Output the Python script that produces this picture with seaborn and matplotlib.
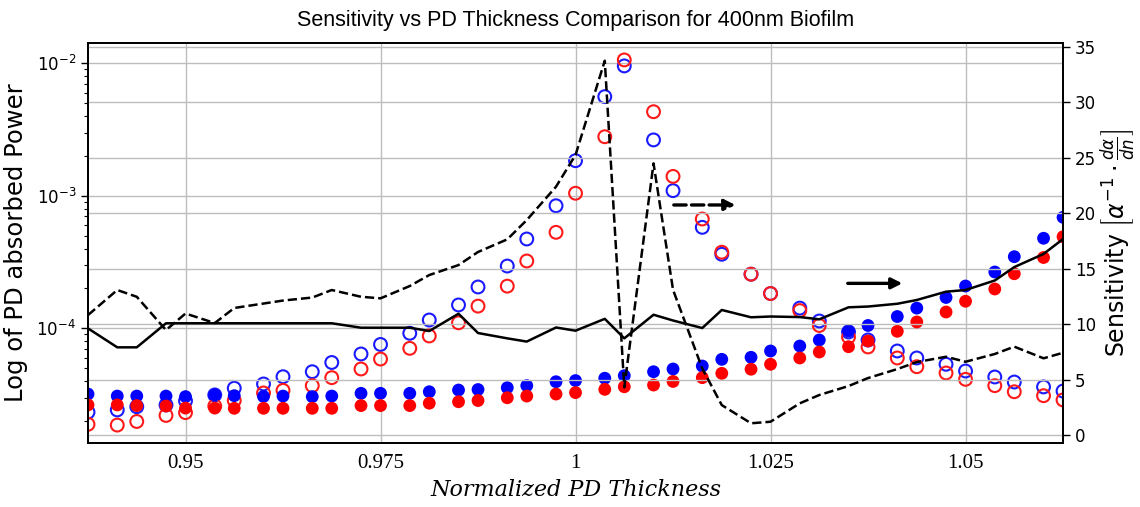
import numpy as np
import pandas as pd
import matplotlib
matplotlib.use("Agg")
import matplotlib.pyplot as plt
import seaborn as sns
from matplotlib.ticker import FixedLocator, FixedFormatter, LogLocator, NullFormatter

# ---------------- data ----------------
thickness = [0.9375, 0.94125, 0.94375, 0.9475, 0.95, 0.95375, 0.95625, 0.96, 0.9625,
             0.96625, 0.96875, 0.9725, 0.975, 0.97875, 0.98125, 0.985, 0.9875, 0.99125,
             0.99375, 0.9975, 1.0, 1.00375, 1.00625, 1.01, 1.0125, 1.01625, 1.01875,
             1.0225, 1.025, 1.02875, 1.03125, 1.035, 1.0375, 1.04125, 1.04375, 1.0475,
             1.05, 1.05375, 1.05625, 1.06, 1.0625]

power_filled_blue = [3.19e-5, 3.08e-5, 3.08e-5, 3.08e-5, 3.05e-5, 3.14e-5, 3.10e-5, 3.06e-5, 3.08e-5,
                     3.05e-5, 3.08e-5, 3.23e-5, 3.23e-5, 3.23e-5, 3.32e-5, 3.42e-5, 3.45e-5, 3.56e-5,
                     3.69e-5, 3.95e-5, 4.03e-5, 4.20e-5, 4.39e-5, 4.70e-5, 4.93e-5, 5.19e-5, 5.83e-5,
                     6.04e-5, 6.74e-5, 7.35e-5, 8.16e-5, 9.54e-5, 1.05e-4, 1.227e-4, 1.42e-4, 1.708e-4,
                     2.085e-4, 2.66e-4, 3.47e-4, 4.78e-4, 6.88e-4]

power_filled_red = [2.64e-5, 2.64e-5, 2.61e-5, 2.59e-5, 2.50e-5, 2.50e-5, 2.49e-5, 2.49e-5, 2.49e-5,
                    2.49e-5, 2.49e-5, 2.61e-5, 2.61e-5, 2.61e-5, 2.72e-5, 2.79e-5, 2.85e-5, 2.99e-5,
                    3.08e-5, 3.19e-5, 3.27e-5, 3.46e-5, 3.62e-5, 3.73e-5, 3.97e-5, 4.24e-5, 4.57e-5,
                    4.91e-5, 5.35e-5, 5.97e-5, 6.62e-5, 7.26e-5, 8.02e-5, 9.49e-5, 1.116e-4, 1.327e-4,
                    1.60e-4, 1.98e-4, 2.58e-4, 3.42e-4, 4.91e-4]

power_open_blue = [2.33e-5, 2.42e-5, 2.56e-5, 2.64e-5, 2.83e-5, 3.14e-5, 3.53e-5, 3.80e-5, 4.31e-5,
                   4.70e-5, 5.52e-5, 6.40e-5, 7.55e-5, 9.17e-5, 1.155e-4, 1.50e-4, 2.05e-4, 2.95e-4,
                   4.72e-4, 8.41e-4, 1.84e-3, 5.60e-3, 9.55e-3, 2.64e-3, 1.093e-3, 5.78e-4, 3.62e-4,
                   2.56e-4, 1.83e-4, 1.42e-4, 1.135e-4, 9.38e-5, 8.16e-5, 6.74e-5, 5.97e-5, 5.35e-5,
                   4.76e-5, 4.29e-5, 3.93e-5, 3.61e-5, 3.36e-5]

power_open_red = [1.886e-5, 1.86e-5, 1.98e-5, 2.20e-5, 2.31e-5, 2.59e-5, 2.85e-5, 3.25e-5, 3.40e-5,
                  3.69e-5, 4.24e-5, 4.93e-5, 5.86e-5, 7.06e-5, 8.75e-5, 1.10e-4, 1.47e-4, 2.08e-4,
                  3.22e-4, 5.30e-4, 1.045e-3, 2.79e-3, 1.06e-2, 4.31e-3, 1.40e-3, 6.68e-4, 3.75e-4,
                  2.56e-4, 1.83e-4, 1.36e-4, 1.05e-4, 8.59e-5, 7.23e-5, 5.97e-5, 5.13e-5, 4.60e-5,
                  4.12e-5, 3.69e-5, 3.32e-5, 3.10e-5, 2.88e-5]

sensitivity_dashed = [10.82, 13.08, 12.47, 9.47, 10.96, 10.10, 11.46, 11.86, 12.13,
                      12.40, 13.08, 12.47, 12.33, 13.44, 14.43, 15.33, 16.51, 17.65,
                      19.39, 22.40, 25.26, 33.76, 4.30, 24.50, 13.10, 6.00, 2.70,
                      1.06, 1.20, 2.86, 3.61, 4.42, 5.14, 5.95, 6.58, 7.06,
                      6.61, 7.31, 7.97, 6.92, 7.42]

sensitivity_solid = [9.62, 7.91, 7.91, 10.08, 10.08, 10.08, 10.08, 10.08, 10.08,
                     10.08, 10.08, 9.68, 9.68, 9.68, 9.38, 10.94, 9.20, 8.72,
                     8.43, 9.70, 9.41, 10.48, 8.72, 10.85, 10.33, 9.65, 11.28,
                     10.62, 10.69, 10.64, 10.44, 11.52, 11.59, 11.84, 12.18, 12.93,
                     13.08, 13.94, 15.15, 16.33, 17.68]

x_ticks = [0.95, 0.975, 1.0, 1.025, 1.05]
x_tick_labels = ["0.95", "0.975", "1", "1.025", "1.05"]
right_ticks = [0, 5, 10, 15, 20, 25, 30, 35]

# arrow annotations (x start, x end, level on sensitivity axis)
dashed_arrow = (1.0126, 1.0205, 20.75)
solid_arrow = (1.0349, 1.0419, 13.68)

df = pd.DataFrame({
    "thickness": thickness,
    "fb": power_filled_blue,
    "fr": power_filled_red,
    "ob": power_open_blue,
    "orr": power_open_red,
    "sd": sensitivity_dashed,
    "ss": sensitivity_solid,
})

# ---------------- style ----------------
sns.set_theme(style="white")
plt.rcParams['font.family'] = ['DejaVu Sans']
plt.rcParams['text.color'] = 'black'
plt.rcParams['axes.labelcolor'] = 'black'
plt.rcParams['xtick.color'] = 'black'
plt.rcParams['ytick.color'] = 'black'

fig = plt.figure(figsize=(11.4, 5.07), dpi=100)
ax1 = fig.add_axes([0.0772, 0.1262, 0.8553, 0.789])
ax1.set_yscale("log")

grid_kw = dict(color="#bdbdbd", linewidth=1.0)
ax1.grid(True, which="major", axis="both", **grid_kw)
ax1.set_axisbelow(True)

ms = 85
sns.scatterplot(data=df, x="thickness", y="ob", ax=ax1, marker="o", s=ms,
                facecolor="none", edgecolor="#1a1aff", linewidth=1.5, zorder=3)
sns.scatterplot(data=df, x="thickness", y="orr", ax=ax1, marker="o", s=ms,
                facecolor="none", edgecolor="#ff1a1a", linewidth=1.5, zorder=3)
sns.scatterplot(data=df, x="thickness", y="fb", ax=ax1, marker="o", s=ms,
                color="#0000ff", edgecolor="none", linewidth=0, zorder=4)
sns.scatterplot(data=df, x="thickness", y="fr", ax=ax1, marker="o", s=ms,
                color="#ff0000", edgecolor="none", linewidth=0, zorder=4)

ax1.set_xlim(0.9375, 1.0625)
ax1.set_ylim(1.362e-5, 1.4226e-2)
ax1.xaxis.set_major_locator(FixedLocator(x_ticks))
ax1.xaxis.set_major_formatter(FixedFormatter(x_tick_labels))
ax1.yaxis.set_major_locator(LogLocator(base=10, numticks=10))
ax1.yaxis.set_minor_locator(LogLocator(base=10, subs=np.arange(2, 10), numticks=20))
ax1.yaxis.set_minor_formatter(NullFormatter())

for lab in ax1.get_xticklabels():
    lab.set_family("Liberation Serif")
    lab.set_fontsize(15)
ax1.tick_params(axis="x", length=0, pad=8, colors="black")
ax1.tick_params(axis="y", which="major", direction="out", length=5, width=1,
                labelsize=12, colors="black", left=True)
ax1.tick_params(axis="y", which="minor", direction="out", length=3, width=0.8,
                left=True, colors="black")
ax1.set_xlabel("Normalized PD Thickness", family="DejaVu Serif", style="italic",
               fontsize=16, labelpad=4)
ax1.set_ylabel("Log of PD absorbed Power", fontsize=17.5, labelpad=6)
ax1.set_title("Sensitivity vs PD Thickness Comparison for 400nm Biofilm",
              family="Liberation Sans", fontsize=15.5, pad=12, color="black")

# ---------------- right axis ----------------
ax2 = ax1.twinx()
ax2.grid(True, axis="y", **grid_kw)
ax2.set_axisbelow(True)
sns.lineplot(data=df, x="thickness", y="sd", ax=ax2, color="black", linestyle="--",
             linewidth=1.8, estimator=None, sort=False, zorder=5)
sns.lineplot(data=df, x="thickness", y="ss", ax=ax2, color="black",
             linewidth=1.8, estimator=None, sort=False, zorder=5)
ax2.set_ylim(-0.72, 35.36)
ax2.set_xlim(0.9375, 1.0625)
ax2.yaxis.set_major_locator(FixedLocator(right_ticks))
ax2.tick_params(axis="y", direction="out", length=5, width=1, labelsize=12,
                colors="black", right=True)
ax2.set_ylabel(r"Sensitivity $\left[\alpha^{-1}\cdot\frac{d\alpha}{dn}\right]$",
               fontsize=17, labelpad=2)

ax2.annotate("", xy=(dashed_arrow[1], dashed_arrow[2]), xytext=(dashed_arrow[0], dashed_arrow[2]),
             arrowprops=dict(arrowstyle="-|>", color="black", lw=2.4, linestyle="--",
                             mutation_scale=16, shrinkA=0, shrinkB=0), zorder=6)
ax2.annotate("", xy=(solid_arrow[1], solid_arrow[2]), xytext=(solid_arrow[0], solid_arrow[2]),
             arrowprops=dict(arrowstyle="-|>", color="black", lw=2.4,
                             mutation_scale=16, shrinkA=0, shrinkB=0), zorder=6)

for ax in (ax1, ax2):
    for sp in ax.spines.values():
        sp.set_color("black")
        sp.set_linewidth(1.3)
    if ax.get_legend() is not None:
        ax.get_legend().remove()

fig.savefig("out.png", dpi=100, facecolor="white")
